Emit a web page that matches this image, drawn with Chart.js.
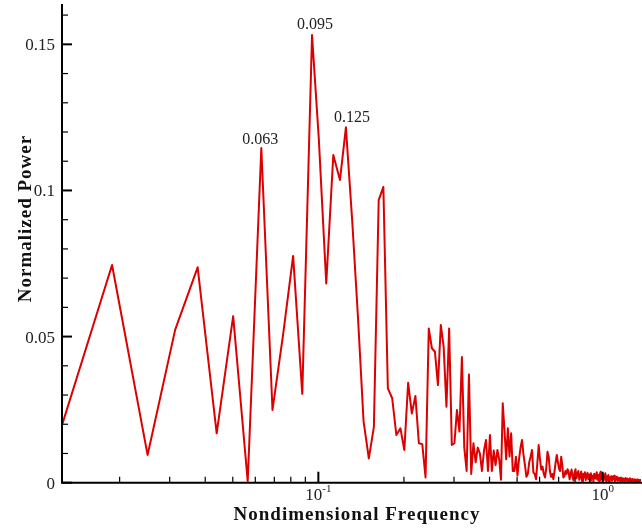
<!DOCTYPE html>
<html>
<head>
<meta charset="utf-8">
<script src="https://cdn.jsdelivr.net/npm/chart.js@4.4.0/dist/chart.umd.min.js"></script>
<style>
  html, body { margin: 0; padding: 0; background: #ffffff; }
  canvas { display: block; }
</style>
</head>
<body>
<canvas id="spectrum" width="642" height="529"></canvas>
<script>
// Spectrum bins (nondimensional frequency)
const frequency = [
  0.01254, 0.01881, 0.02508, 0.03135, 0.03762, 0.04389, 0.05016, 0.05643, 0.063, 0.06897,
  0.07524, 0.08151, 0.08778, 0.095, 0.10032, 0.10659, 0.11286, 0.11913, 0.125, 0.13167,
  0.13794, 0.14421, 0.15048, 0.15675, 0.16302, 0.16929, 0.17556, 0.18183, 0.1881, 0.19437,
  0.20064, 0.20691, 0.21318, 0.21945, 0.22572, 0.23199, 0.23826, 0.24453, 0.2508, 0.25707,
  0.26334, 0.26961, 0.27588, 0.28215, 0.28842, 0.29469, 0.30096, 0.30723, 0.3135, 0.31977,
  0.32604, 0.33231, 0.33858, 0.34485, 0.35112, 0.35739, 0.36366, 0.36993, 0.3762, 0.38247,
  0.38874, 0.39501, 0.40128, 0.40755, 0.41382, 0.42009, 0.42636, 0.43263, 0.4389, 0.44517,
  0.45144, 0.45771, 0.46398, 0.47025, 0.47652, 0.48279, 0.48906, 0.49533, 0.5016, 0.50787,
  0.51414, 0.52041, 0.52668, 0.53295, 0.53922, 0.54549, 0.55176, 0.55803, 0.5643, 0.57057,
  0.57684, 0.58311, 0.58938, 0.59565, 0.60192, 0.60819, 0.61446, 0.62073, 0.627, 0.63327,
  0.63954, 0.64581, 0.65208, 0.65835, 0.66462, 0.67089, 0.67716, 0.68343, 0.6897, 0.69597,
  0.70224, 0.70851, 0.71478, 0.72105, 0.72732, 0.73359, 0.73986, 0.74613, 0.7524, 0.75867,
  0.76494, 0.77121, 0.77748, 0.78375, 0.79002, 0.79629, 0.80256, 0.80883, 0.8151, 0.82137,
  0.82764, 0.83391, 0.84018, 0.84645, 0.85272, 0.85899, 0.86526, 0.87153, 0.8778, 0.88407,
  0.89034, 0.89661, 0.90288, 0.90915, 0.91542, 0.92169, 0.92796, 0.93423, 0.9405, 0.94677,
  0.95304, 0.95931, 0.96558, 0.97185, 0.97812, 0.98439, 0.99066, 0.99693, 1.0032, 1.00947,
  1.01574, 1.02201, 1.02828, 1.03455, 1.04082, 1.04709, 1.05336, 1.05963, 1.0659, 1.07217,
  1.07844, 1.08471, 1.09098, 1.09725, 1.10352, 1.10979, 1.11606, 1.12233, 1.1286, 1.13487,
  1.14114, 1.14741, 1.15368, 1.15995, 1.16622, 1.17249, 1.17876, 1.18503, 1.1913, 1.19757,
  1.20384, 1.21011, 1.21638, 1.22265, 1.22892, 1.23519, 1.24146, 1.24773, 1.254, 1.26027,
  1.26654, 1.27281, 1.27908, 1.28535, 1.29162, 1.29789, 1.30416, 1.31043, 1.3167, 1.32297,
  1.32924, 1.33551, 1.34178, 1.34805, 1.35432, 1.36059, 1.36686
];

// Normalized power for each bin
const power = [
  0.0197, 0.0745, 0.0095, 0.0523, 0.0737, 0.0169, 0.0570, 0.0005, 0.1145, 0.0249,
  0.0510, 0.0776, 0.0304, 0.1532, 0.1180, 0.0682, 0.1121, 0.1036, 0.1216, 0.0890,
  0.0560, 0.0210, 0.0083, 0.0190, 0.0967, 0.1012, 0.0323, 0.0289, 0.0163, 0.0186,
  0.0112, 0.0342, 0.0237, 0.0297, 0.0135, 0.0132, 0.0018, 0.0528, 0.0460, 0.0448,
  0.0334, 0.0540, 0.0465, 0.0260, 0.0528, 0.0129, 0.0135, 0.0249, 0.0175, 0.0430,
  0.0120, 0.0040, 0.0370, 0.0030, 0.0135, 0.0070, 0.0120, 0.0100, 0.0040, 0.0110,
  0.0146, 0.0040, 0.0163, 0.0040, 0.0110, 0.0060, 0.0112, 0.0080, 0.0010, 0.0272,
  0.0180, 0.0080, 0.0186, 0.0090, 0.0169, 0.0040, 0.0040, 0.0089, 0.0025, 0.0080,
  0.0120, 0.0146, 0.0095, 0.0060, 0.0020, 0.0030, 0.0070, 0.0090, 0.0112, 0.0035,
  0.0030, 0.0012, 0.0070, 0.0129, 0.0080, 0.0045, 0.0055, 0.0030, 0.0018, 0.0050,
  0.0106, 0.0090, 0.0040, 0.0020, 0.0030, 0.0012, 0.0040, 0.0070, 0.0095, 0.0070,
  0.0048, 0.0040, 0.0089, 0.0060, 0.0018, 0.0022, 0.0040, 0.0030, 0.0046,
  0.0038, 0.0012, 0.0030, 0.0045, 0.0020, 0.0008, 0.0035, 0.0046, 0.0015, 0.0028,
  0.0040, 0.0010, 0.0022, 0.0038, 0.0006, 0.0030, 0.0018, 0.0036, 0.0009, 0.0025,
  0.0034, 0.0012, 0.0028, 0.0007, 0.0032, 0.0016, 0.0024, 0.0005, 0.0031, 0.0014,
  0.0022, 0.0036, 0.0010, 0.0026, 0.0006, 0.0030, 0.0038, 0.0012, 0.0020, 0.0008,
  0.0028, 0.0015, 0.0032, 0.0006, 0.0022, 0.0011, 0.0026, 0.0004, 0.0019, 0.0013,
  0.0022, 0.0007, 0.0018, 0.0012, 0.0024, 0.0005, 0.0016, 0.0010, 0.0020, 0.0006,
  0.0017, 0.0009, 0.0014, 0.0004, 0.0018, 0.0011, 0.0006, 0.0015, 0.0008, 0.0013,
  0.0005, 0.0016, 0.0010, 0.0007, 0.0014, 0.0004, 0.0012, 0.0008, 0.0015, 0.0006,
  0.0011, 0.0004, 0.0013, 0.0008, 0.0010, 0.0003, 0.0012, 0.0006, 0.0009, 0.0005,
  0.0011, 0.0004, 0.0008, 0.0010, 0.0003, 0.0007, 0.0009, 0.0005
];

// Annotated peak frequencies
const peakFrequencies = [0.063, 0.095, 0.125];

// Axis ticks and labels
const xMajorTicks = [0.1, 1];
const xMajorExponents = ['-1', '0'];
const xMinorTicks = [0.02, 0.03, 0.04, 0.05, 0.06, 0.07, 0.08, 0.09,
                     0.2, 0.3, 0.4, 0.5, 0.6, 0.7, 0.8, 0.9];
const yMajorTicks = [0, 0.05, 0.1, 0.15];
const yTickLabels = ['0', '0.05', '0.1', '0.15'];
const yMinorTicks = [0.01, 0.02, 0.03, 0.04, 0.06, 0.07, 0.08, 0.09,
                     0.11, 0.12, 0.13, 0.14, 0.16];

const xTitle = 'Nondimensional Frequency';
const yTitle = 'Normalized Power';

const SERIF = '"Liberation Serif", "Times New Roman", "DejaVu Serif", serif';

// Draws the left/bottom axes with inward ticks, labels, titles and peak notes
const framePlugin = {
  id: 'frame',
  afterDatasetsDraw(chart, args, opts) {
    const { ctx, chartArea: a, scales: { x, y } } = chart;
    ctx.save();

    // Peak annotations
    ctx.fillStyle = '#222';
    ctx.font = '16px ' + SERIF;
    ctx.textAlign = 'center';
    ctx.textBaseline = 'alphabetic';
    const meta = chart.getDatasetMeta(0);
    peakFrequencies.forEach((pf, j) => {
      const i = frequency.indexOf(pf);
      const pt = meta.data[i];
      const [dx, dy] = opts.peakShift[j];
      ctx.fillText(pf.toFixed(3), pt.x + dx, pt.y - dy);
    });

    // Axis lines
    ctx.strokeStyle = '#000';
    ctx.lineWidth = 2;
    ctx.beginPath();
    ctx.moveTo(a.left, a.top);
    ctx.lineTo(a.left, a.bottom);
    ctx.lineTo(a.right + 1, a.bottom);
    ctx.stroke();

    // Inward tick marks
    const tick = (x1, y1, x2, y2, w) => {
      ctx.lineWidth = w;
      ctx.beginPath();
      ctx.moveTo(x1, y1);
      ctx.lineTo(x2, y2);
      ctx.stroke();
    };
    xMajorTicks.forEach(v => {
      const px = x.getPixelForValue(v);
      tick(px, a.bottom, px, a.bottom - 11, 2);
    });
    xMinorTicks.forEach(v => {
      const px = x.getPixelForValue(v);
      tick(px, a.bottom, px, a.bottom - 6, 1.2);
    });
    yMajorTicks.forEach(v => {
      const py = y.getPixelForValue(v);
      tick(a.left, py, a.left + 10, py, 2);
    });
    yMinorTicks.forEach(v => {
      const py = y.getPixelForValue(v);
      tick(a.left, py, a.left + 6, py, 1.2);
    });

    // Y tick labels
    ctx.fillStyle = '#222';
    ctx.font = '17px ' + SERIF;
    ctx.textAlign = 'right';
    yMajorTicks.forEach((v, i) => {
      const py = y.getPixelForValue(v);
      ctx.fillText(yTickLabels[i], a.left - 7, py + 6);
    });

    // X tick labels: base 10 with raised exponent
    ctx.textAlign = 'left';
    xMajorTicks.forEach((v, i) => {
      const px = x.getPixelForValue(v);
      ctx.font = '17px ' + SERIF;
      const wb = ctx.measureText('10').width;
      ctx.font = '11px ' + SERIF;
      const we = ctx.measureText(xMajorExponents[i]).width;
      const x0 = px - (wb + we) / 2;
      ctx.font = '17px ' + SERIF;
      ctx.fillText('10', x0, a.bottom + 17.5);
      ctx.font = '11px ' + SERIF;
      ctx.fillText(xMajorExponents[i], x0 + wb, a.bottom + 9.5);
    });

    // Axis titles
    ctx.fillStyle = '#111';
    ctx.font = 'bold 19px ' + SERIF;
    ctx.letterSpacing = '1px';
    ctx.textAlign = 'center';
    ctx.fillText(xTitle, 357, a.bottom + 37.5);

    ctx.translate(31, 218.5);
    ctx.rotate(-Math.PI / 2);
    ctx.fillText(yTitle, 0, 0);

    ctx.restore();
  }
};

new Chart(document.getElementById('spectrum'), {
  type: 'line',
  data: {
    datasets: [{
      data: frequency.map((f, i) => ({ x: f, y: power[i] })),
      borderColor: '#dc0000',
      borderWidth: 2,
      borderJoinStyle: 'round',
      pointRadius: 0,
      tension: 0,
      fill: false
    }]
  },
  options: {
    responsive: false,
    animation: false,
    devicePixelRatio: 1,
    layout: { padding: { left: 62, top: 4, right: 1, bottom: 46.3 } },
    plugins: {
      legend: { display: false },
      tooltip: { enabled: false },
      frame: { peakShift: [[-1, 4], [3, 6], [6, 5]] }
    },
    scales: {
      x: { type: 'logarithmic', min: 0.01254, max: 1.364, display: false },
      y: { type: 'linear', min: 0, max: 0.1638, display: false }
    }
  },
  plugins: [framePlugin]
});
</script>
</body>
</html>
